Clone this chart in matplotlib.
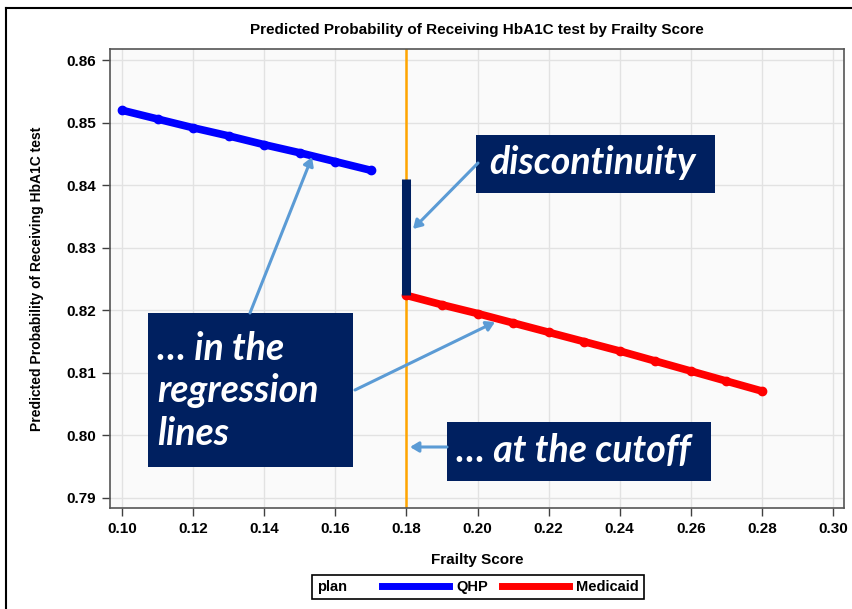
import numpy as np
import matplotlib
matplotlib.use("Agg")
import matplotlib.pyplot as plt
from matplotlib.lines import Line2D
from matplotlib.patches import Rectangle, FancyArrowPatch
from matplotlib.offsetbox import HPacker

# data
cutoff = 0.18
qhp_x = [0.10, 0.11, 0.12, 0.13, 0.14, 0.15, 0.16, 0.17]
qhp_y = [0.8520, 0.8506, 0.8492, 0.8479, 0.8465, 0.8452, 0.8438, 0.8424]
med_x = [0.18, 0.19, 0.20, 0.21, 0.22, 0.23, 0.24, 0.25, 0.26, 0.27, 0.28]
med_y = [0.8224, 0.8209, 0.8195, 0.8180, 0.8165, 0.8150, 0.8135, 0.8119, 0.8103, 0.8087, 0.8071]
x_ticks = [0.10, 0.12, 0.14, 0.16, 0.18, 0.20, 0.22, 0.24, 0.26, 0.28, 0.30]
y_ticks = [0.79, 0.80, 0.81, 0.82, 0.83, 0.84, 0.85, 0.86]

W, H = 852, 609
NAVY = "#002060"
ARROW = "#5B9BD5"
ORANGE = "#FFA500"

plt.rcParams['font.family'] = ['Liberation Sans', 'DejaVu Sans']

fig = plt.figure(figsize=(W / 100, H / 100), dpi=100)
ax = fig.add_axes([110 / W, 1 - 508 / H, (844 - 110) / W, (508 - 49) / H])
ax.set_facecolor("#fafafa")

# pixel -> figure fraction
def px(x, y):
    return (x / W, 1 - y / H)

ax.axvline(cutoff, color=ORANGE, lw=1.8, zorder=2)
ax.plot(qhp_x, qhp_y, color="#0000FF", lw=5.5, marker="o", ms=6,
        solid_capstyle="round", zorder=3)
ax.plot(med_x, med_y, color="#FF0000", lw=5.5, marker="o", ms=6,
        solid_capstyle="round", zorder=3)

# gap between the two lines at the cutoff
fit = np.polyfit(qhp_x, qhp_y, 1)
gap_top = np.polyval(fit, cutoff)
ax.plot([cutoff, cutoff], [med_y[0], gap_top], color=NAVY, lw=6.5,
        solid_capstyle="butt", zorder=4)

ax.set_xlim(0.0966, 0.3031)
ax.set_ylim(0.7884, 0.8618)
ax.set_xticks(x_ticks)
ax.set_yticks(y_ticks)
ax.set_xticklabels([f"{v:.2f}" for v in x_ticks])
ax.set_yticklabels([f"{v:.2f}" for v in y_ticks])
ax.tick_params(labelsize=11, length=6, color="#404040", width=1, pad=4)
for lab in ax.get_xticklabels() + ax.get_yticklabels():
    lab.set_fontweight("bold")
ax.grid(True, color="#e2e2e2", lw=1)
ax.set_axisbelow(True)
for s in ax.spines.values():
    s.set_color("#555555")
    s.set_linewidth(1.2)

ax.set_xlabel("Frailty Score", fontsize=11, fontweight="bold", labelpad=12)
ax.set_ylabel("Predicted Probability of Receiving HbA1C test", fontsize=10,
              fontweight="bold", labelpad=16)
fig.text(*px(477, 30), "Predicted Probability of Receiving HbA1C test by Frailty Score",
         ha="center", va="center", fontsize=11, fontweight="bold")

# legend with the title on the left
fs = 10.5
handles = [Line2D([], [], color="#0000FF", lw=5, label="QHP"),
           Line2D([], [], color="#FF0000", lw=5, label="Medicaid")]
leg = fig.legend(handles=handles, loc="center", bbox_to_anchor=px(478, 587),
                 ncol=2, title="plan", fontsize=fs, handlelength=4.6,
                 handletextpad=0.5, columnspacing=0.9, borderpad=0.35,
                 fancybox=False, edgecolor="black", framealpha=1,
                 title_fontproperties={"weight": "bold", "size": fs})
for t in leg.get_texts():
    t.set_fontweight("bold")
leg.get_frame().set_linewidth(1.2)
leg._legend_box = HPacker(pad=leg.borderpad * fs, sep=2.4 * fs, align="center",
                          children=[leg._legend_title_box, leg._legend_handle_box])
leg._legend_box.set_figure(fig)
leg._legend_box.set_offset(leg._findoffset)

# slide frame
fig.add_artist(Line2D([6 / W, 6 / W], [0, 1 - 8 / H], color="black", lw=1.5,
                      transform=fig.transFigure))
fig.add_artist(Line2D([6 / W, 1], [1 - 8 / H, 1 - 8 / H], color="black", lw=1.5,
                      transform=fig.transFigure))

# callout boxes
boxes = [
    ((476, 135, 715, 193), "discontinuity", (489, 162)),
    ((148, 313, 353, 467), "\u2026 in the\nregression\nlines", (157, 391)),
    ((447, 422, 711, 481), "\u2026 at the cutoff", (456, 450)),
]
for (x0, y0, x1, y1), txt, (tx, ty) in boxes:
    fig.add_artist(Rectangle(px(x0, y1), (x1 - x0) / W, (y1 - y0) / H,
                             transform=fig.transFigure, facecolor=NAVY,
                             edgecolor="none", zorder=5))
    fig.text(*px(tx, ty), txt, ha="left", va="center", color="white",
             fontsize=27, fontweight="bold", style="italic", family="Lato",
             linespacing=1.27, zorder=6)

arrows = [
    ((250, 313), (312, 157)),
    ((355, 390), (495, 322)),
    ((478, 163), (413, 229)),
    ((447, 447), (410, 447)),
]
for tail, tip in arrows:
    fig.add_artist(FancyArrowPatch(
        px(*tail), px(*tip), transform=fig.transFigure,
        arrowstyle="-|>,head_length=5,head_width=3", color=ARROW, lw=2.2,
        shrinkA=0, shrinkB=0, zorder=5))

fig.savefig("out.png", dpi=100)
